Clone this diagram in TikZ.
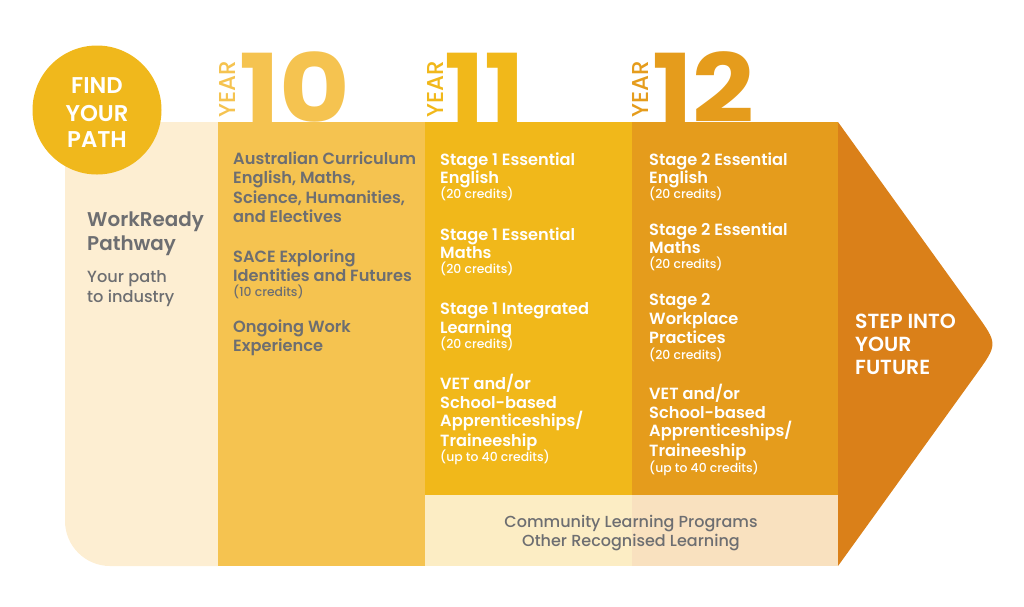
\documentclass[tikz,border=0pt]{standalone}
\usepackage{fontspec}
\setmainfont{Poppins}[UprightFont=* Medium, BoldFont=* SemiBold]
\newfontfamily\numfont{Poppins}[UprightFont=* Bold]
\usetikzlibrary{calc}
\definecolor{c10}{HTML}{F5C350}
\definecolor{c11}{HTML}{F1B81A}
\definecolor{c12}{HTML}{E59C1C}
\definecolor{carr}{HTML}{DA8019}
\definecolor{ccirc}{HTML}{F0B81C}
\definecolor{pale}{HTML}{FDEED2}
\definecolor{bandl}{HTML}{FCEDC4}
\definecolor{bandr}{HTML}{F9E1BF}
\definecolor{gry}{HTML}{6D6E71}
\newcommand\crd{\mdseries\fontsize{12.4}{14}\selectfont}
\begin{document}
\begin{tikzpicture}[x=1pt,y=-1pt,
  tl/.style={anchor=base west, inner sep=0pt, text height=11pt, text depth=3pt, font=\fontsize{16.2}{18}\selectfont\bfseries},
  bignum/.style={anchor=base west, inner sep=0pt, xscale=1.14, font=\fontsize{95}{95}\numfont},
  yrlab/.style={rotate=90, anchor=base west, inner sep=0pt, font=\fontsize{23}{23}\selectfont},
  captxt/.style={inner sep=0pt, text height=15pt, text depth=0pt, font=\fontsize{22.8}{24}\selectfont\bfseries, text=white},
  lefttxt/.style={anchor=base west, inner sep=0pt, text height=13pt, text depth=4pt, text=gry},
  armtxt/.style={anchor=base west, inner sep=0pt, text height=14pt, text depth=0pt, font=\fontsize{20.4}{22}\selectfont\bfseries, text=white},
  bandtxt/.style={anchor=base, inner sep=0pt, text height=12pt, text depth=3pt, font=\fontsize{16}{18}\selectfont, text=gry}]
\useasboundingbox (0,0) rectangle (1024,606);
% left pale panel
\fill[pale] (65,122) -- (218,122) -- (218,566) -- (110,566)
  .. controls (85.2,566) and (65,545.8) .. (65,521) -- cycle;
% columns
\fill[c10] (218,122) rectangle (425,566);
\fill[c11] (425,122) rectangle (632,495);
\fill[c12] (632,122) rectangle (838,495);
\fill[bandl] (425,495) rectangle (632,566);
\fill[bandr] (632,495) rectangle (838,566);
% arrow
\coordinate (tip) at (998,344);
\coordinate (atop) at (838,122);
\coordinate (abot) at (838,566);
\fill[carr] (atop) -- ($(tip)!38pt!(atop)$) .. controls (tip) .. ($(tip)!38pt!(abot)$) -- (abot) -- cycle;
% circle
\node[circle, fill=ccirc, minimum size=129pt, inner sep=0pt] (circ) at (97,110) {};
\node[captxt, anchor=base] (f1) at (97,93.3) {FIND};
\node[captxt, anchor=base] (f2) at (97,121) {YOUR};
\node[captxt, anchor=base] (f3) at (97,147.7) {PATH};
% year headers
\node[yrlab, text=c10] (y10) at (235,118) {YEAR};
\node[bignum, text=c10] (n10) at (239,122) {10};
\node[yrlab, text=c11] (y11) at (443,118) {YEAR};
\node[bignum, text=c11] (n11) at (444,122) {11};
\node[yrlab, text=c12] (y12) at (648,118) {YEAR};
\node[bignum, text=c12] (n12) at (652,122) {12};
% left panel text
\node[lefttxt, font=\fontsize{19.9}{22}\selectfont\bfseries] (w1) at (87,226.7) {WorkReady};
\node[lefttxt, font=\fontsize{19.9}{22}\selectfont\bfseries] (w2) at (87,250) {Pathway};
\node[lefttxt, text height=11pt, text depth=3pt, font=\fontsize{16.2}{18}\selectfont] (w3) at (87,282.7) {Your path};
\node[lefttxt, text height=11pt, text depth=3pt, font=\fontsize{16.2}{18}\selectfont] (w4) at (87,302.7) {to industry};
% year 10 text
\foreach \y/\t [count=\i] in {164.5/{Australian Curriculum}, 183.9/{English, Maths,}, 203.3/{Science, Humanities,}, 222.7/{and Electives}, 262.7/{SACE Exploring}, 281.7/{Identities and Futures}, 296.7/{\crd (10 credits)}, 332.7/{Ongoing Work}, 351.7/{Experience}}
  \node[tl, text=gry] (b\i) at (233,\y) {\t};
% year 11 text
\foreach \y/\t [count=\i] in {165/{Stage 1 Essential}, 183.3/{English}, 198.3/{\crd (20 credits)}, 240/{Stage 1 Essential}, 258.3/{Maths}, 273.3/{\crd (20 credits)}, 314.3/{Stage 1 Integrated}, 333.3/{Learning}, 348.3/{\crd (20 credits)}, 389/{VET and/or}, 408.3/{School-based}, 426.7/{Apprenticeships/}, 446/{Traineeship}, 461.7/{\crd (up to 40 credits)}}
  \node[tl, text=white] (a\i) at (440,\y) {\t};
% year 12 text
\foreach \y/\t [count=\i] in {165/{Stage 2 Essential}, 183.3/{English}, 198.3/{\crd (20 credits)}, 235/{Stage 2 Essential}, 253.3/{Maths}, 268.3/{\crd (20 credits)}, 305.7/{Stage 2}, 324.3/{Workplace}, 343.3/{Practices}, 359.3/{\crd (20 credits)}, 399.3/{VET and/or}, 418.3/{School-based}, 436.7/{Apprenticeships/}, 456/{Traineeship}, 472.7/{\crd (up to 40 credits)}}
  \node[tl, text=white] (d\i) at (649,\y) {\t};
% band text
\node[bandtxt] (k1) at (631,527.7) {Community Learning Programs};
\node[bandtxt] (k2) at (631,546.7) {Other Recognised Learning};
% arrow text
\node[armtxt] (s1) at (855,328.3) {STEP INTO};
\node[armtxt] (s2) at (855,351.7) {YOUR};
\node[armtxt] (s3) at (855,374.3) {FUTURE};
\end{tikzpicture}
\end{document}
